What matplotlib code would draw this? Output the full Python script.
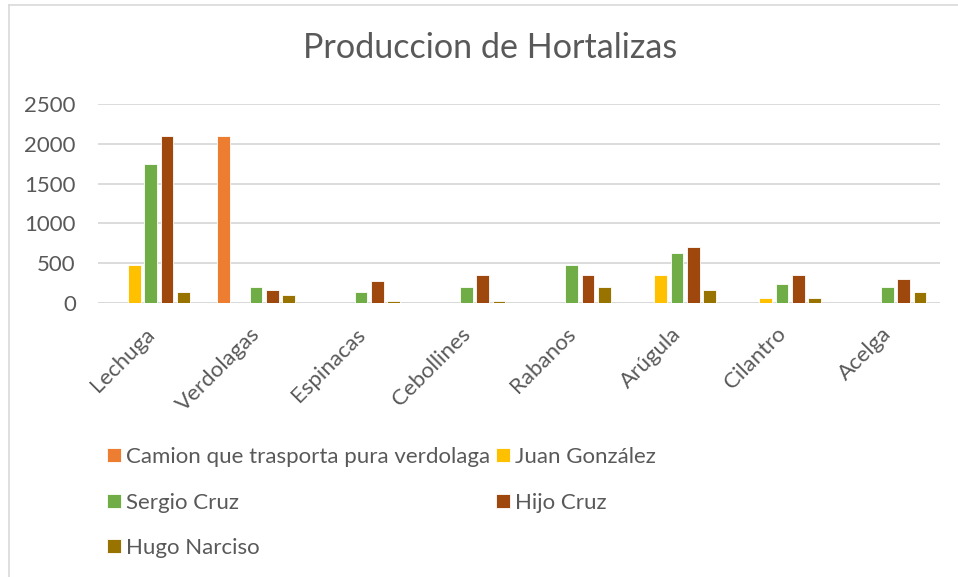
import matplotlib
matplotlib.use("Agg")
import matplotlib.pyplot as plt
import matplotlib.transforms as mtransforms
from matplotlib.lines import Line2D
import numpy as np

categories = ["Lechuga", "Verdolagas", "Espinacas", "Cebollines", "Rabanos",
              "Arúgula", "Cilantro", "Acelga"]
series_names = ["Camion que trasporta pura verdolaga", "Juan González",
                "Sergio Cruz", "Hijo Cruz", "Hugo Narciso"]
camion = [0, 2100, 0, 0, 0, 0, 0, 0]
juan = [480, 0, 0, 0, 0, 350, 70, 0]
sergio = [1750, 200, 140, 200, 480, 625, 240, 200]
hijo = [2100, 170, 280, 350, 350, 700, 350, 310]
hugo = [140, 100, 30, 30, 200, 170, 70, 140]
yticks = [0, 500, 1000, 1500, 2000, 2500]

colors = ["#ED7D31", "#FFC000", "#70AD47", "#9E480E", "#997300"]
text_color = "#595959"
grid_color = "#D9D9D9"
font = "Lato"
fs = 16

W, H = 958, 577
fig = plt.figure(figsize=(W / 100, H / 100), dpi=100)
fig.patch.set_facecolor("white")

# chart border (top and left visible)
fig.add_artist(Line2D([9 / W, 1], [1 - 5 / H, 1 - 5 / H], color=grid_color, lw=1.2,
                      transform=fig.transFigure))
fig.add_artist(Line2D([9 / W, 9 / W], [0, 1 - 5 / H], color=grid_color, lw=1.2,
                      transform=fig.transFigure))

left, right = 98 / W, 940 / W
top, bottom = 1 - 103.7 / H, 1 - 303.3 / H
ax = fig.add_axes([left, bottom, right - left, top - bottom])

data = [camion, juan, sergio, hijo, hugo]
x = np.arange(len(categories))
pitch = 0.155
bw = 0.12
handles = []
for i, (vals, c, name) in enumerate(zip(data, colors, series_names)):
    b = ax.bar(x + (i - 2) * pitch, vals, width=bw, color=c, edgecolor="white",
               linewidth=0.6, label=name, zorder=3)
    handles.append(b)

ax.set_xlim(-0.5, len(categories) - 0.5)
ax.set_ylim(0, 2500)
ax.set_yticks(yticks)
ax.set_yticklabels([str(v) for v in yticks], fontsize=fs, color=text_color,
                   family=font)
ax.yaxis.grid(True, color=grid_color, lw=1.3, zorder=0)
ax.set_axisbelow(True)
for s in ax.spines.values():
    s.set_visible(False)
ax.tick_params(axis="y", length=0, pad=16)
ax.tick_params(axis="x", length=0, pad=20)
ax.set_xticks(x)
ax.set_xticklabels(categories, rotation=45, ha="right", va="center",
                   rotation_mode="anchor", fontsize=fs, color=text_color,
                   family=font)
offset = mtransforms.ScaledTranslation(1 / 100, 0, fig.dpi_scale_trans)
for lab in ax.get_xticklabels():
    lab.set_transform(lab.get_transform() + offset)

ax.axhline(0, color=grid_color, lw=1.3, zorder=1)

fig.text(490 / W, 1 - 48 / H, "Produccion de Hortalizas", ha="center",
         va="center", fontsize=24.6, color=text_color, family=font)

order = [0, 2, 4, 1, 3]
leg = fig.legend([handles[i] for i in order], [series_names[i] for i in order],
                 loc="upper left", bbox_to_anchor=(107 / W, 1 - 447 / H),
                 ncol=2, frameon=False, handlelength=0.62,
                 handleheight=0.62, handletextpad=0.25, columnspacing=0.25,
                 labelspacing=1.15, borderpad=0, borderaxespad=0,
                 prop={"family": font, "size": fs})
for t in leg.get_texts():
    t.set_color(text_color)

fig.savefig("out.png", dpi=100, facecolor="white")
